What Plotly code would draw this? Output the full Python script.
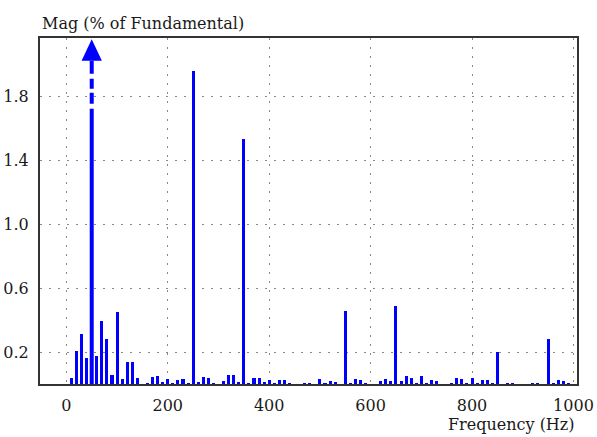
import plotly.graph_objects as go

# Harmonic spectrum (10 Hz resolution), magnitude in % of the fundamental
freq_hz = list(range(10, 1000, 10))
mag_pct = [
    0.04, 0.205, 0.315, 0.16, None, 0.175, 0.395, 0.28, 0.055, 0.45,       # 10-100
    0.03, 0.135, 0.135, 0.035, 0.0, 0.006, 0.042, 0.05, 0.0125, 0.03,      # 110-200
    0.006, 0.025, 0.031, 0.006, 1.96, 0.0125, 0.044, 0.0375, 0.006, 0.0,   # 210-300
    0.019, 0.054, 0.054, 0.0125, 1.53, 0.006, 0.0375, 0.0375, 0.0125, 0.025,  # 310-400
    0.006, 0.025, 0.025, 0.006, 0.0, 0.0, 0.006, 0.006, 0.0, 0.031,        # 410-500
    0.006, 0.019, 0.0125, 0.0, 0.456, 0.006, 0.031, 0.025, 0.006, 0.0,     # 510-600
    0.0, 0.019, 0.031, 0.019, 0.4875, 0.019, 0.05, 0.0375, 0.006, 0.05,    # 610-700
    0.006, 0.025, 0.019, 0.0, 0.0, 0.006, 0.0375, 0.031, 0.006, 0.0375,    # 710-800
    0.006, 0.025, 0.025, 0.006, 0.2, 0.0, 0.006, 0.006, 0.0, 0.0,          # 810-900
    0.0, 0.006, 0.006, 0.0, 0.28, 0.006, 0.025, 0.019, 0.006,              # 910-990
]

# The fundamental (100 %) is off scale and is drawn as an arrow
fundamental_hz = 50
fundamental_pct = 100

x_ticks = [0, 200, 400, 600, 800, 1000]
y_ticks = [0.2, 0.6, 1.0, 1.4, 1.8]

X_RANGE = [-52, 1007]
Y_RANGE = [0, 2.165]

BLUE = "#0000ff"
FONT = "DejaVu Serif"
FS = 16
TEXT = "#1a1a1a"

fig = go.Figure()
fig.add_trace(go.Bar(
    x=freq_hz, y=mag_pct, width=6,
    marker=dict(color=BLUE, line=dict(width=0)),
    hoverinfo="x+y",
))

# Off-scale fundamental: solid shaft, dashed section, arrowhead at the top edge
y_top = Y_RANGE[1] - 0.008
head_h = 0.135
head_half_w = 20
dash_len = 0.30
y_head = y_top - head_h
y_dash = y_head - dash_len
shapes = [
    dict(type="line", xref="x", yref="y", x0=fundamental_hz, x1=fundamental_hz,
         y0=0, y1=y_dash, line=dict(color=BLUE, width=4)),
    dict(type="line", xref="x", yref="y", x0=fundamental_hz, x1=fundamental_hz,
         y0=y_head, y1=y_dash,
         line=dict(color=BLUE, width=4, dash="13px,5px,10px,4px,11px,5px")),
    dict(type="path", xref="x", yref="y",
         path=(f"M {fundamental_hz - head_half_w},{y_head} "
               f"L {fundamental_hz + head_half_w},{y_head} "
               f"L {fundamental_hz},{y_top} Z"),
         fillcolor=BLUE, line=dict(color=BLUE, width=0)),
]

fig.update_layout(
    width=597, height=437,
    margin=dict(l=40, r=20, t=38, b=53),
    paper_bgcolor="white", plot_bgcolor="white",
    showlegend=False, bargap=0,
    font=dict(family=FONT, size=FS, color=TEXT),
    shapes=shapes,
    annotations=[
        dict(text="Mag (% of Fundamental)", xref="paper", yref="paper",
             x=0, y=1, xanchor="left", yanchor="bottom", yshift=3,
             showarrow=False, font=dict(family=FONT, size=FS, color=TEXT)),
        dict(text="Frequency (Hz)", xref="paper", yref="paper",
             x=1, y=0, xanchor="right", yanchor="top", yshift=-29,
             showarrow=False, font=dict(family=FONT, size=FS, color=TEXT)),
    ],
)

fig.update_xaxes(
    range=X_RANGE, tickvals=x_ticks, ticktext=[str(v) for v in x_ticks],
    showgrid=True, gridcolor="#888", gridwidth=1, griddash="2px,7px",
    showline=True, linecolor="#333", linewidth=2, mirror=True,
    ticks="", zeroline=False, ticklabelstandoff=6, automargin=False,
)
fig.update_yaxes(
    range=Y_RANGE, tickvals=y_ticks, ticktext=[f"{v:.1f}" for v in y_ticks],
    showgrid=True, gridcolor="#888", gridwidth=1, griddash="2px,7px",
    showline=True, linecolor="#333", linewidth=2, mirror=True,
    ticks="", zeroline=False, ticklabelstandoff=6, automargin=False,
)

fig.write_html("out.html")
